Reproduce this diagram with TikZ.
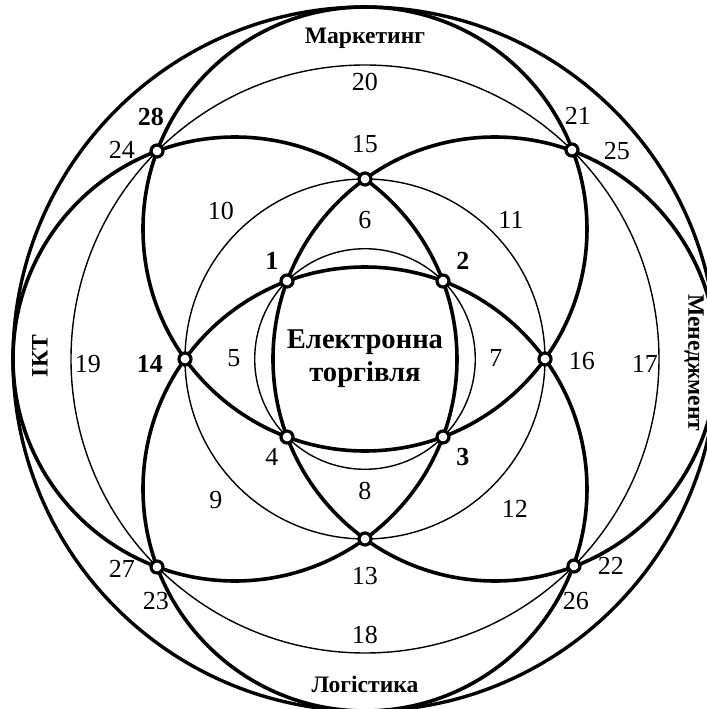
\documentclass[tikz,border=0pt]{standalone}
\usepackage{fontspec}
\setmainfont{Liberation Serif}

\begin{document}
\begin{tikzpicture}[
    x=0.5pt, y=0.5pt,
    every node/.style={font=\fontsize{13}{15}\selectfont},
    junc/.style={circle, draw, fill=white, line width=1.6pt,
                 minimum size=6pt, inner sep=0pt},
    bigring/.style={line width=1.8pt},
    thinring/.style={line width=0.7pt},
    num/.style={inner sep=1pt},
    numb/.style={inner sep=1pt, font=\fontsize{13}{15}\selectfont\bfseries},
    areatext/.style={font=\fontsize{11.8}{13}\selectfont\bfseries},
    core/.style={align=center, font=\fontsize{14.3}{16.5}\selectfont\bfseries}
]

% Frame
\path[use as bounding box, clip] (-365,-350) rectangle (342,359);

% Thin rings
\draw[thinring] (0,0) circle (110.3);
\draw[thinring] (0,0) circle (180);
\draw[thinring] (0,0) circle (294);

% Area rings -- top, bottom, left, right
\draw[bigring] (0,130)  circle (222);
\draw[bigring] (0,-130) circle (222);
\draw[bigring] (-130,0) circle (222);
\draw[bigring] (130,0)  circle (222);

% Outer ring
\draw[line width=1.7pt] (0,0) circle (352);

% Junctions -- inner square
\node[junc] (j1) at (-78,78)  {};
\node[junc] (j2) at (78,78)   {};
\node[junc] (j3) at (78,-78)  {};
\node[junc] (j4) at (-78,-78) {};

% Junctions -- middle ring
\node[junc] (j15) at (0,180)  {};
\node[junc] (j16) at (180,0)  {};
\node[junc] (j13) at (0,-180) {};
\node[junc] (j14) at (-180,0) {};

% Junctions -- outer ring
\node[junc] (j28) at (-208,208) {};
\node[junc] (j21) at (207,209)  {};
\node[junc] (j22) at (209,-207) {};
\node[junc] (j27) at (-208,-208) {};

% Centre
\node[core] (ecom) at (0,0) {Електронна\\торгівля};

% Areas
\node[areatext] (mkt) at (0,321) {Маркетинг};
\node[areatext] (log) at (0,-325) {Логістика};
\node[areatext, rotate=90]  (ict)  at (-325,3)  {ІКТ};
\node[areatext, rotate=-90] (mgmt) at (329,-4)  {Менеджмент};

% Numbers at junctions
\node[numb] (l1)  at (-93,98)   {1};
\node[numb] (l2)  at (98,98)    {2};
\node[numb] (l3)  at (98,-98)   {3};
\node[num]  (l4)  at (-93,-98)  {4};
\node[num]  (l13) at (0,-217)   {13};
\node[numb] (l14) at (-215,-5)  {14};
\node[num]  (l15) at (0,215)    {15};
\node[num]  (l16) at (217,-2)   {16};
\node[num]  (l21) at (213,243)  {21};
\node[num]  (l22) at (246,-207) {22};
\node[num]  (l23) at (-209,-242) {23};
\node[num]  (l24) at (-243,209) {24};
\node[num]  (l25) at (252,208)  {25};
\node[num]  (l26) at (211,-242) {26};
\node[num]  (l27) at (-243,-210) {27};
\node[numb] (l28) at (-214,242) {28};

% Numbers of regions
\node[num] (l5)  at (-131,1)    {5};
\node[num] (l6)  at (0,139)     {6};
\node[num] (l7)  at (131,1)     {7};
\node[num] (l8)  at (0,-132)    {8};
\node[num] (l9)  at (-149,-141) {9};
\node[num] (l10) at (-144,148)  {10};
\node[num] (l11) at (146,139)   {11};
\node[num] (l12) at (150,-150)  {12};
\node[num] (l17) at (280,-5)    {17};
\node[num] (l18) at (0,-276)    {18};
\node[num] (l19) at (-277,-5)   {19};
\node[num] (l20) at (0,277)     {20};

\end{tikzpicture}
\end{document}
